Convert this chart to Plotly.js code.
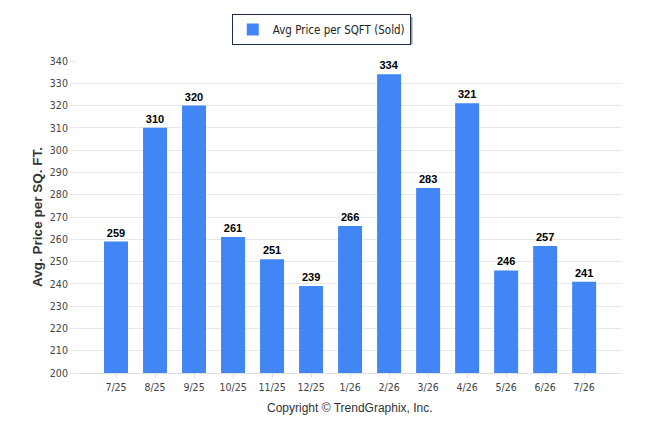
<!DOCTYPE html>
<html><head><meta charset="utf-8">
<script src="https://cdn.plot.ly/plotly-3.0.1.min.js"></script>
<style>html,body{margin:0;padding:0;background:#fff;}#chart{width:646px;height:434px;}</style>
</head><body><div id="chart"></div>
<script>
var months = ["7/25","8/25","9/25","10/25","11/25","12/25","1/26","2/26","3/26","4/26","5/26","6/26","7/26"];
var avgPriceSold = [259,310,320,261,251,239,266,334,283,321,246,257,241];
var seriesName = "Avg Price per SQFT (Sold)";
var yTicks = [200,210,220,230,240,250,260,270,280,290,300,310,320,330,340];

var trace = {
  type: "bar",
  x: months,
  y: avgPriceSold,
  name: seriesName,
  marker: {color: "#4285f4"},
  width: 0.615,
  text: avgPriceSold.map(String),
  textposition: "outside",
  cliponaxis: false,
  textfont: {family: "Liberation Sans, Arial, sans-serif", size: 11, color: "#000", weight: "bold"},
  showlegend: true
};

var layout = {
  width: 646, height: 434,
  margin: {l: 77, r: 24, t: 61, b: 61},
  paper_bgcolor: "#fff", plot_bgcolor: "#fff",
  bargap: 0.385,
  xaxis: {
    type: "category",
    range: [-1, 12.97],
    showgrid: false,
    showline: true, linecolor: "#e0e0e0", linewidth: 1,
    ticks: "outside", ticklen: 4, tickcolor: "#e0e0e0",
    tickfont: {family: "DejaVu Sans Condensed, Tahoma, sans-serif", size: 10.5, color: "#444"},
    fixedrange: true
  },
  yaxis: {
    range: [200, 340],
    tickvals: yTicks,
    ticktext: yTicks.map(String),
    showgrid: true, gridcolor: "#e8e8e8", gridwidth: 1,
    zeroline: false, showline: false,
    ticks: "outside", ticklen: 6, tickcolor: "#e8e8e8",
    tickfont: {family: "DejaVu Sans Condensed, Tahoma, sans-serif", size: 10.5, color: "#444"},
    title: {text: "Avg. Price per SQ. FT.", standoff: 4,
            font: {family: "Liberation Sans, Arial, sans-serif", size: 13.5, color: "#333", weight: "bold"}},
    automargin: false
  },
  legend: {
    orientation: "h",
    x: 0.284, xanchor: "left",
    y: 1.151, yanchor: "top",
    bgcolor: "#fff", bordercolor: "#1f2d4d", borderwidth: 1,
    font: {family: "DejaVu Sans Condensed, Tahoma, sans-serif", size: 11.5, color: "#222"},
    itemwidth: 30
  },
  shapes: [{
    type: "rect", xref: "paper", yref: "paper",
    x0: (235-77)/545, x1: (412.5-77)/545,
    y0: 1 + (61-44.5)/312, y1: 1 + (61-17)/312,
    fillcolor: "#999", line: {width: 0}, layer: "above"
  }],
  annotations: [{
    text: "Copyright © TrendGraphix, Inc.",
    xref: "paper", yref: "paper",
    x: (350-77)/545, y: -(408-373)/312,
    xanchor: "center", yanchor: "middle",
    showarrow: false,
    font: {family: "Liberation Sans, Arial, sans-serif", size: 12, color: "#333"}
  }]
};

Plotly.newPlot("chart", [trace], layout, {displayModeBar: false, staticPlot: true});
</script></body></html>
